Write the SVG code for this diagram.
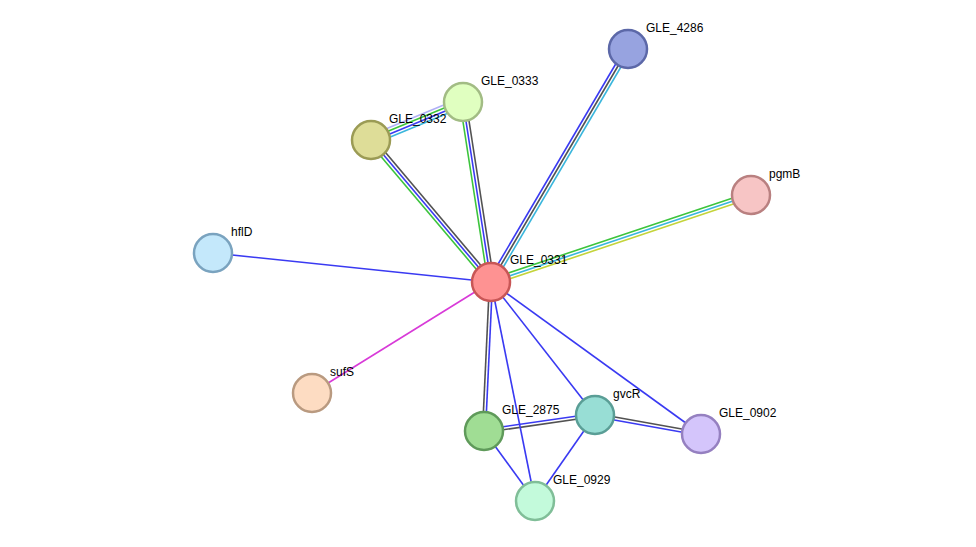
<svg xmlns="http://www.w3.org/2000/svg" width="976" height="547" viewBox="0 0 976 547">
<style>
.e line{stroke-width:1.6;fill:none}
.b{stroke:#3a3af2}
.k{stroke:#525252}
.g{stroke:#3cc43c}
.c{stroke:#3ab6dc}
.y{stroke:#c4d43a}
.m{stroke:#d83ad8}
.l{stroke:#b0b0f6}
.n circle{stroke-width:2.5}
.n text{font-family:"Liberation Sans",Arial,sans-serif;font-size:12px;fill:#000}
</style>
<rect width="976" height="547" fill="#fff"/>
<g id="connectors" class="e">
<line class="g" x1="488.7" y1="283.9" x2="368.7" y2="141.9"/>
<line class="b" x1="491" y1="282" x2="371" y2="140"/>
<line class="k" x1="493.3" y1="280.1" x2="373.3" y2="138.1"/>
<line class="g" x1="488" y1="282.5" x2="460" y2="102.5"/>
<line class="b" x1="491" y1="282" x2="463" y2="102"/>
<line class="k" x1="494" y1="281.5" x2="466" y2="101.5"/>
<line class="b" x1="488.4" y1="280.5" x2="625.4" y2="47.5"/>
<line class="k" x1="491" y1="282" x2="628" y2="49"/>
<line class="c" x1="493.6" y1="283.5" x2="630.6" y2="50.5"/>
<line class="g" x1="490" y1="279.2" x2="750" y2="192.2"/>
<line class="c" x1="491" y1="282" x2="751" y2="195"/>
<line class="y" x1="492" y1="284.8" x2="752" y2="197.8"/>
<line class="l" x1="369.3" y1="135.8" x2="461.3" y2="97.8"/>
<line class="g" x1="370.4" y1="138.6" x2="462.4" y2="100.6"/>
<line class="b" x1="371.6" y1="141.4" x2="463.6" y2="103.4"/>
<line class="c" x1="372.7" y1="144.2" x2="464.7" y2="106.2"/>
<line class="k" x1="489.5" y1="281.9" x2="482.5" y2="430.9"/>
<line class="b" x1="492.5" y1="282.1" x2="485.5" y2="431.1"/>
<line class="b" x1="483.8" y1="429.5" x2="594.8" y2="413.5"/>
<line class="k" x1="484.2" y1="432.5" x2="595.2" y2="416.5"/>
<line class="k" x1="595.3" y1="413.5" x2="701.3" y2="432.5"/>
<line class="b" x1="594.7" y1="416.5" x2="700.7" y2="435.5"/>
<line class="b" x1="491" y1="282" x2="213" y2="253"/>
<line class="m" x1="491" y1="282" x2="312" y2="393"/>
<line class="b" x1="491" y1="282" x2="595" y2="415"/>
<line class="b" x1="491" y1="282" x2="701" y2="434"/>
<line class="b" x1="491" y1="282" x2="535" y2="501"/>
<line class="b" x1="484" y1="431" x2="535" y2="501"/>
<line class="b" x1="595" y1="415" x2="535" y2="501"/>
</g>
<g id="GLE_0331" class="n"><circle cx="491" cy="282" r="19" fill="#fe9292" stroke="#c85656"/><text x="510" y="264">GLE_0331</text></g>
<g id="GLE_4286" class="n"><circle cx="628" cy="49" r="19" fill="#97a3e0" stroke="#5c68a8"/><text x="646" y="32">GLE_4286</text></g>
<g id="GLE_0333" class="n"><circle cx="463" cy="102" r="19" fill="#e0ffc0" stroke="#a2bc84"/><text x="481" y="85">GLE_0333</text></g>
<g id="GLE_0332" class="n"><circle cx="371" cy="140" r="19" fill="#dedd98" stroke="#9b9b55"/><text x="389" y="123">GLE_0332</text></g>
<g id="pgmB" class="n"><circle cx="751" cy="195" r="19" fill="#f7c5c5" stroke="#b98080"/><text x="769" y="178">pgmB</text></g>
<g id="hflD" class="n"><circle cx="213" cy="253" r="19" fill="#c4e8fb" stroke="#7aa3bf"/><text x="231" y="236">hflD</text></g>
<g id="sufS" class="n"><circle cx="312" cy="393" r="19" fill="#fddcc2" stroke="#b99a80"/><text x="330" y="376">sufS</text></g>
<g id="GLE_2875" class="n"><circle cx="484" cy="431" r="19" fill="#a0dd94" stroke="#5f9a5a"/><text x="502" y="414">GLE_2875</text></g>
<g id="gvcR" class="n"><circle cx="595" cy="415" r="19" fill="#98ded5" stroke="#5a9e96"/><text x="613" y="398">gvcR</text></g>
<g id="GLE_0902" class="n"><circle cx="701" cy="434" r="19" fill="#d4c5fb" stroke="#9580c0"/><text x="719" y="417">GLE_0902</text></g>
<g id="GLE_0929" class="n"><circle cx="535" cy="501" r="19" fill="#c3fadb" stroke="#80be98"/><text x="553" y="484">GLE_0929</text></g>
</svg>
